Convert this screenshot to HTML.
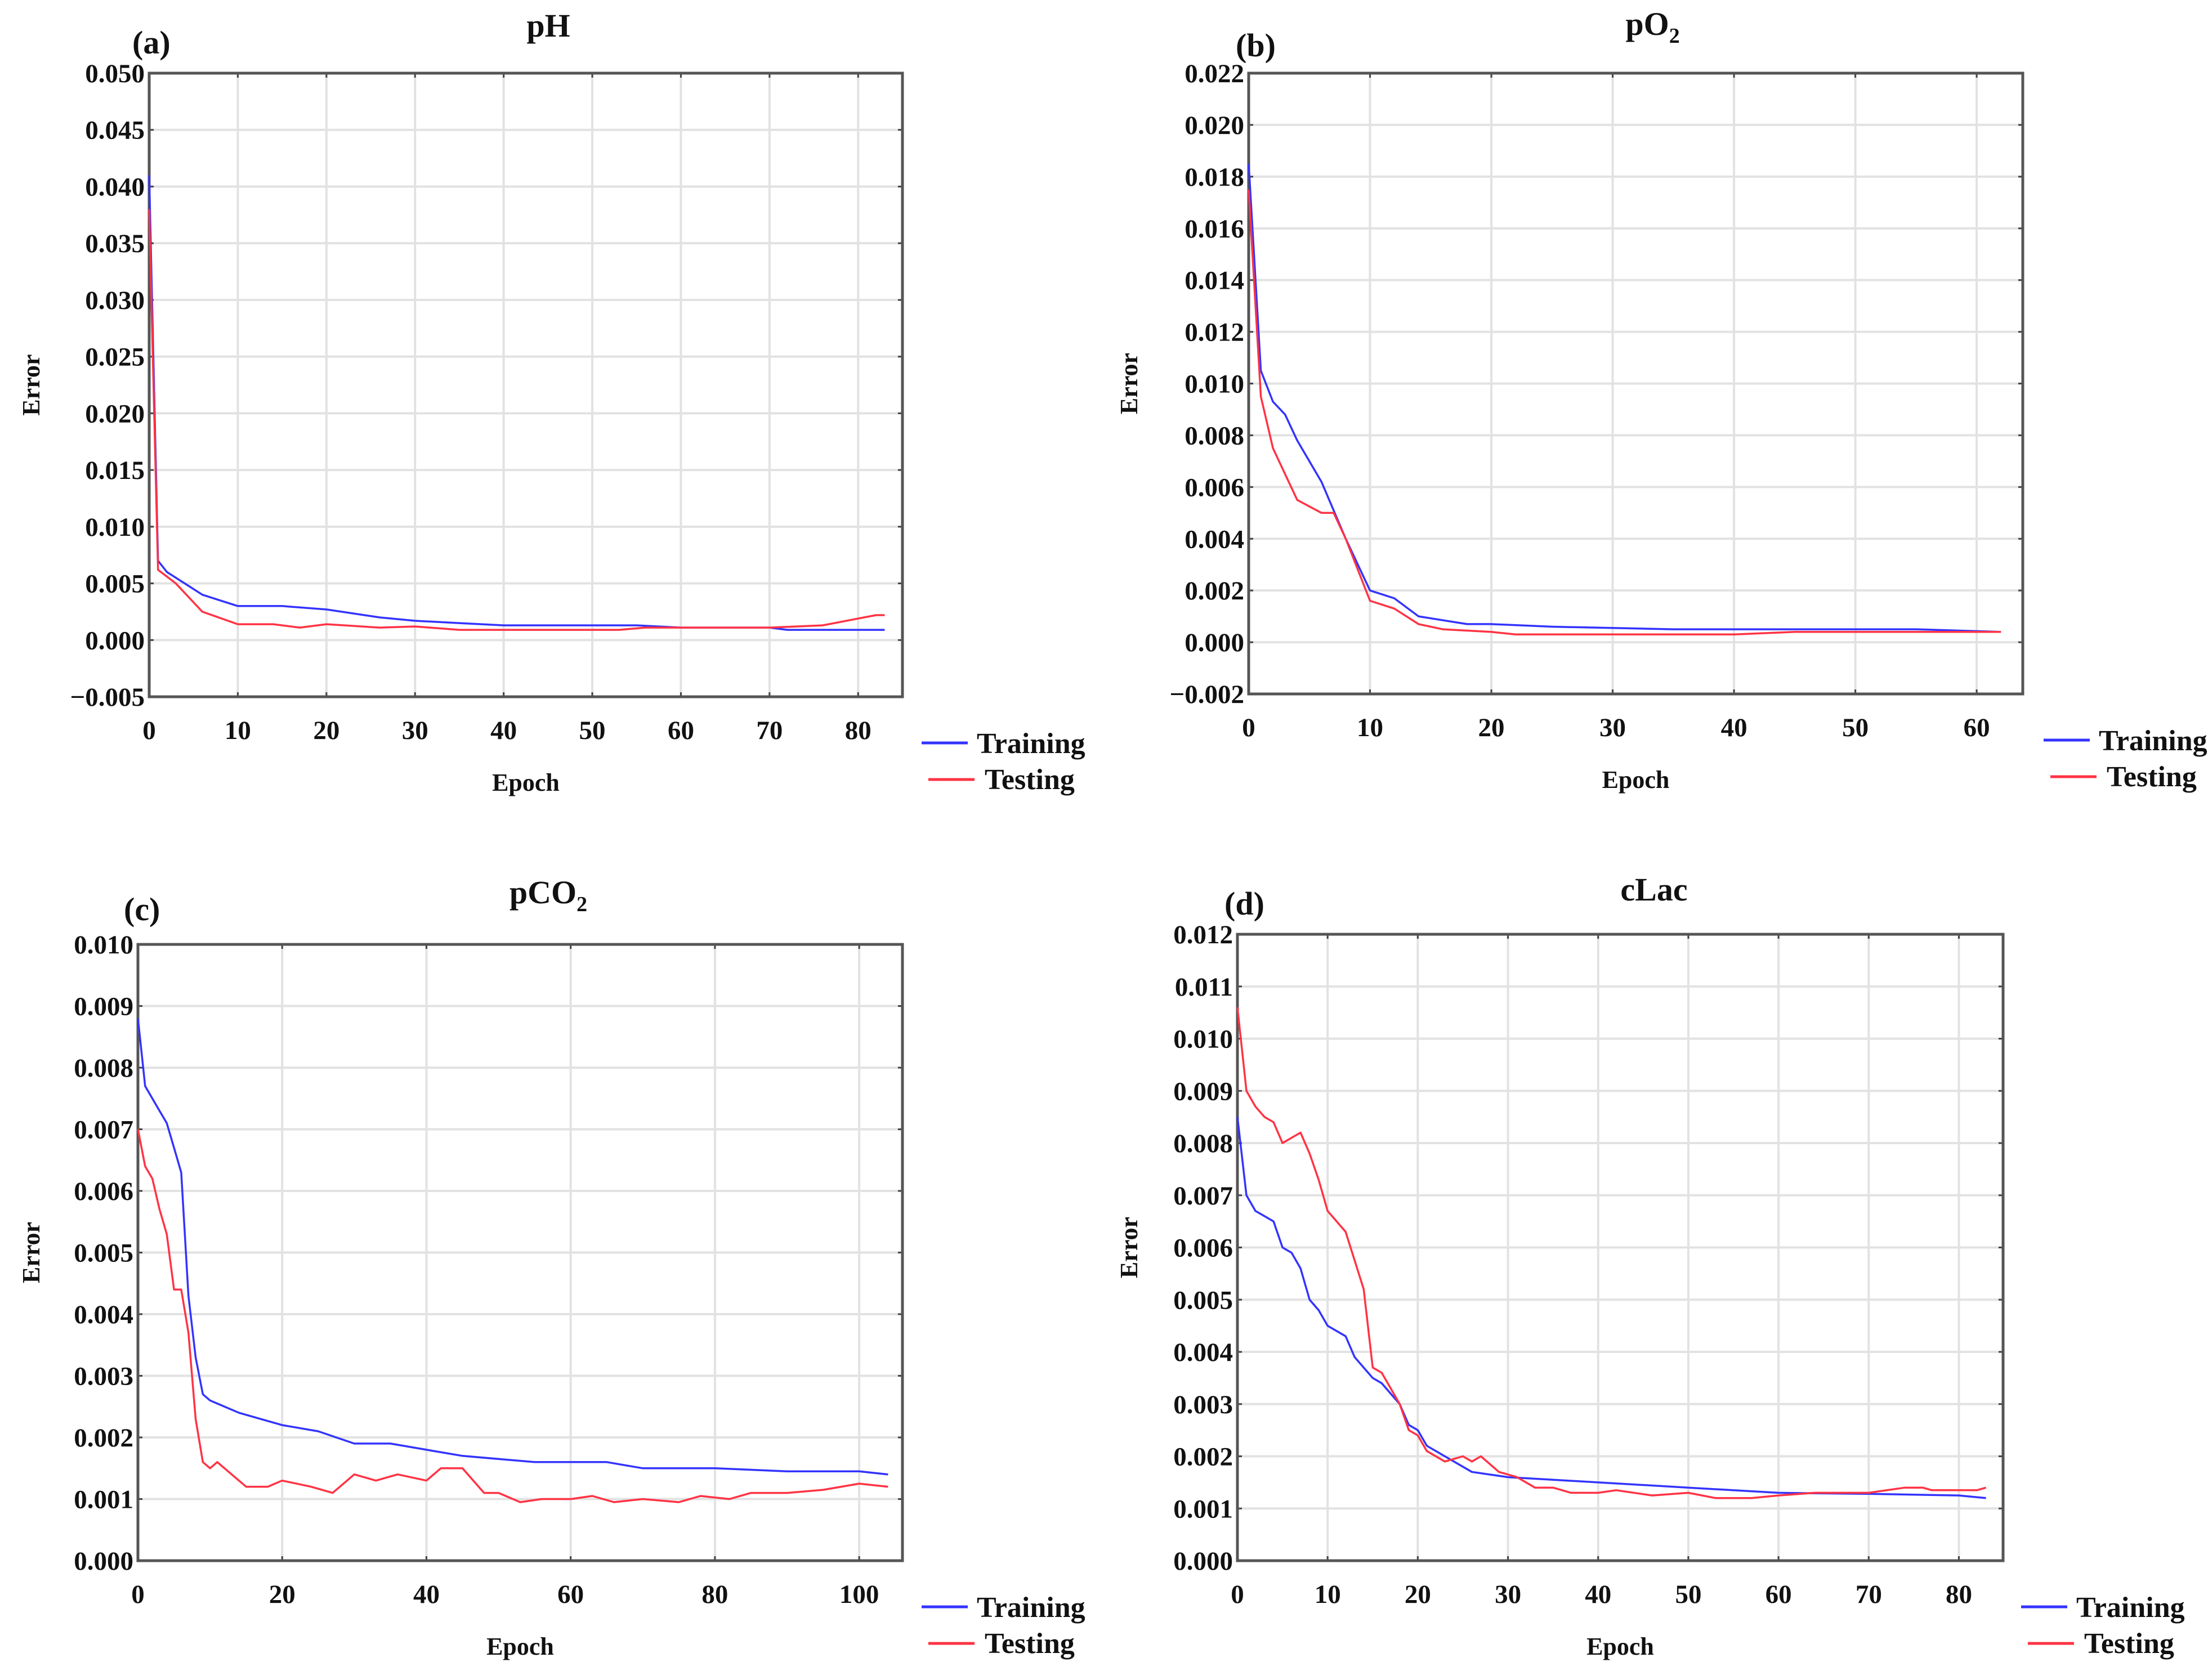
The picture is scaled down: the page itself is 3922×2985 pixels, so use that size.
<!DOCTYPE html>
<html><head><meta charset="utf-8"><style>
html,body{margin:0;padding:0;background:#fff}
svg{display:block}
text{font-family:"Liberation Serif",serif;fill:#111}
.tick{font-size:47px;font-weight:bold}
.title{font-size:58px;font-weight:bold}
.lab{font-size:44px;font-weight:bold}
.leg{font-size:52px;font-weight:bold}
</style></head><body>
<svg id="fig" width="3922" height="2985" viewBox="0 0 3922 2985" xmlns="http://www.w3.org/2000/svg"></svg>
<script>
// ---- data: panel (a) pH ----
const phTrainEpoch=[0,1,2,4,6,8,10,15,20,26,30,35,40,55,60,70,72,83];
const phTrainErr=[0.041,0.007,0.006,0.005,0.004,0.0035,0.003,0.003,0.0027,0.002,0.0017,0.0015,0.0013,0.0013,0.0011,0.0011,0.0009,0.0009];
const phTestEpoch=[0,1,3,6,10,14,17,20,26,30,35,53,56,70,76,82,83];
const phTestErr=[0.038,0.0062,0.005,0.0025,0.0014,0.0014,0.0011,0.0014,0.0011,0.0012,0.0009,0.0009,0.0011,0.0011,0.0013,0.0022,0.0022];
const phYTicks=[0.050,0.045,0.040,0.035,0.030,0.025,0.020,0.015,0.010,0.005,0.000,-0.005];
const phXTicks=[0,10,20,30,40,50,60,70,80];
// ---- panel (b) pO2 ----
const o2TrainEpoch=[0,1,2,3,4,6,8,10,12,14,18,20,25,35,55,62];
const o2TrainErr=[0.0185,0.0105,0.0093,0.0088,0.0078,0.0062,0.004,0.002,0.0017,0.001,0.0007,0.0007,0.0006,0.0005,0.0005,0.0004];
const o2TestEpoch=[0,1,2,4,6,7,8,10,12,14,16,20,22,30,40,45,62];
const o2TestErr=[0.0175,0.0095,0.0075,0.0055,0.005,0.005,0.004,0.0016,0.0013,0.0007,0.0005,0.0004,0.0003,0.0003,0.0003,0.0004,0.0004];
const o2YTicks=[0.022,0.020,0.018,0.016,0.014,0.012,0.010,0.008,0.006,0.004,0.002,0.000,-0.002];
const o2XTicks=[0,10,20,30,40,50,60];
// ---- panel (c) pCO2 ----
const co2TrainEpoch=[0,1,2,3,4,5,6,7,8,9,10,14,17,20,25,30,35,40,45,55,65,70,80,90,100,104];
const co2TrainErr=[0.0088,0.0077,0.0075,0.0073,0.0071,0.0067,0.0063,0.0043,0.0033,0.0027,0.0026,0.0024,0.0023,0.0022,0.0021,0.0019,0.0019,0.0018,0.0017,0.0016,0.0016,0.0015,0.0015,0.00145,0.00145,0.0014];
const co2TestEpoch=[0,1,2,3,4,5,6,7,8,9,10,11,13,15,18,20,24,27,30,33,36,40,42,45,48,50,53,56,60,63,66,70,75,78,82,85,90,95,100,104];
const co2TestErr=[0.007,0.0064,0.0062,0.0057,0.0053,0.0044,0.0044,0.0037,0.0023,0.0016,0.0015,0.0016,0.0014,0.0012,0.0012,0.0013,0.0012,0.0011,0.0014,0.0013,0.0014,0.0013,0.0015,0.0015,0.0011,0.0011,0.00095,0.001,0.001,0.00105,0.00095,0.001,0.00095,0.00105,0.001,0.0011,0.0011,0.00115,0.00125,0.0012];
const co2YTicks=[0.010,0.009,0.008,0.007,0.006,0.005,0.004,0.003,0.002,0.001,0.000];
const co2XTicks=[0,20,40,60,80,100];
// ---- panel (d) cLac ----
const lacTrainEpoch=[0,1,2,3,4,5,6,7,8,9,10,12,13,15,16,18,19,20,21,23,26,30,35,40,50,60,70,80,83];
const lacTrainErr=[0.0085,0.007,0.0067,0.0066,0.0065,0.006,0.0059,0.0056,0.005,0.0048,0.0045,0.0043,0.0039,0.0035,0.0034,0.003,0.0026,0.0025,0.0022,0.002,0.0017,0.0016,0.00155,0.0015,0.0014,0.0013,0.00128,0.00125,0.0012];
const lacTestEpoch=[0,1,2,3,4,5,7,8,9,10,12,14,15,16,18,19,20,21,23,25,26,27,29,31,33,35,37,40,42,46,50,53,57,60,64,70,74,76,77,82,83];
const lacTestErr=[0.0106,0.009,0.0087,0.0085,0.0084,0.008,0.0082,0.0078,0.0073,0.0067,0.0063,0.0052,0.0037,0.0036,0.003,0.0025,0.0024,0.0021,0.0019,0.002,0.0019,0.002,0.0017,0.0016,0.0014,0.0014,0.0013,0.0013,0.00135,0.00125,0.0013,0.0012,0.0012,0.00125,0.0013,0.0013,0.0014,0.0014,0.00135,0.00135,0.0014];
const lacYTicks=[0.012,0.011,0.010,0.009,0.008,0.007,0.006,0.005,0.004,0.003,0.002,0.001,0.000];
const lacXTicks=[0,10,20,30,40,50,60,70,80];

const NS="http://www.w3.org/2000/svg";
const svg=document.getElementById('fig');
function mk(tag,attrs,parent,txt){const e=document.createElementNS(NS,tag);for(const k in attrs)e.setAttribute(k,attrs[k]);if(txt!==undefined)e.textContent=txt;(parent||svg).appendChild(e);return e;}

function panel(cfg){
  const g=mk('g',{});
  
  
  const L=cfg.L,R=cfg.R,T=cfg.T,B=cfg.B;
  const xs=v=>L+(v-cfg.xmin)/(cfg.xmax-cfg.xmin)*(R-L);
  const ys=v=>B-(v-cfg.ymin)/(cfg.ymax-cfg.ymin)*(B-T);
  cfg.yTicks.forEach(v=>{
    const l=mk('line',{x1:L,x2:R,y1:ys(v),y2:ys(v),stroke:'#e2e2e2','stroke-width':4},g);
    
    
    mk('line',{x1:L,x2:L+8,y1:ys(v),y2:ys(v),stroke:'#444','stroke-width':3},g);
    mk('line',{x1:R-8,x2:R,y1:ys(v),y2:ys(v),stroke:'#444','stroke-width':3},g);
    const t=mk('text',{x:L-8,y:ys(v)+16,'text-anchor':'end',class:'tick'},g,(v<0?'\u2212'+Math.abs(v).toFixed(3):v.toFixed(3)));
    
    
  });
  cfg.xTicks.forEach(v=>{
    const l=mk('line',{x1:xs(v),x2:xs(v),y1:T,y2:B,stroke:'#e2e2e2','stroke-width':4},g);
    
    
    mk('line',{x1:xs(v),x2:xs(v),y1:T,y2:T+8,stroke:'#444','stroke-width':3},g);
    mk('line',{x1:xs(v),x2:xs(v),y1:B-8,y2:B,stroke:'#444','stroke-width':3},g);
    const t=mk('text',{x:xs(v),y:B+75,'text-anchor':'middle',class:'tick'},g,String(v));
    
    
  });
  const fr=mk('rect',{x:L,y:T,width:R-L,height:B-T,fill:'none',stroke:'#555','stroke-width':5},g);
  
  
  const line=(ex,er,color,nm)=>{
    const d=ex.map((e,i)=>(i?'L':'M')+xs(e).toFixed(1)+','+ys(er[i]).toFixed(1)).join(' ');
    const p=mk('path',{d:d,fill:'none',stroke:color,'stroke-width':3.5,'stroke-linejoin':'round'},g);
    
    
  };
  line(cfg.trE,cfg.trV,'#3333ff','training-line');
  line(cfg.teE,cfg.teV,'#ff3344','testing-line');
  const ti=mk('text',{x:(L+R)/2+cfg.tdx,y:cfg.titleY,'text-anchor':'middle',class:'title'},g);
  
  
  ti.appendChild(document.createTextNode(cfg.title));
  if(cfg.sub){mk('tspan',{'font-size':38,dy:14},ti,cfg.sub);}
  const pl=mk('text',{x:cfg.lx,y:cfg.ly,class:'title'},g,cfg.letter);
  
  
  const yl=mk('text',{x:0,y:0,transform:'translate('+(cfg.ex)+','+((T+B)/2)+') rotate(-90)','text-anchor':'middle',class:'lab'},g,'Error');
  
  
  const xl=mk('text',{x:(L+R)/2,y:B+167,'text-anchor':'middle',class:'lab'},g,'Epoch');
  
  
  const lg=mk('g',{},g);
  
  
  mk('line',{x1:cfg.legX,x2:cfg.legX+82,y1:B+82,y2:B+82,stroke:'#3333ff','stroke-width':5},lg);
  const t1=mk('text',{x:cfg.legX+98,y:B+100,class:'leg'},lg,'Training');
  
  
  mk('line',{x1:cfg.legX+12,x2:cfg.legX+94,y1:B+147,y2:B+147,stroke:'#ff3344','stroke-width':5},lg);
  const t2=mk('text',{x:cfg.legX+112,y:B+164,class:'leg'},lg,'Testing');
  
  
}

panel({name:'panel-a-ph',L:265,R:1603,T:130,B:1238,xmin:0,xmax:85,ymin:-0.005,ymax:0.050,
  yTicks:phYTicks,xTicks:phXTicks,trE:phTrainEpoch,trV:phTrainErr,teE:phTestEpoch,teV:phTestErr,
  title:'pH',tdx:40,titleY:65,letter:'(a)',lx:235,ly:95,ex:70,legX:1637});
panel({name:'panel-b-po2',L:2218,R:3593,T:130,B:1233,xmin:0,xmax:63.8,ymin:-0.002,ymax:0.022,
  yTicks:o2YTicks,xTicks:o2XTicks,trE:o2TrainEpoch,trV:o2TrainErr,teE:o2TestEpoch,teV:o2TestErr,
  title:'pO',sub:'2',tdx:30,titleY:62,letter:'(b)',lx:2195,ly:100,ex:2020,legX:3630});
panel({name:'panel-c-pco2',L:245,R:1603,T:1678,B:2773,xmin:0,xmax:106,ymin:0,ymax:0.010,
  yTicks:co2YTicks,xTicks:co2XTicks,trE:co2TrainEpoch,trV:co2TrainErr,teE:co2TestEpoch,teV:co2TestErr,
  title:'pCO',sub:'2',tdx:50,titleY:1605,letter:'(c)',lx:220,ly:1635,ex:70,legX:1637});
panel({name:'panel-d-clac',L:2198,R:3558,T:1660,B:2773,xmin:0,xmax:84.9,ymin:0,ymax:0.012,
  yTicks:lacYTicks,xTicks:lacXTicks,trE:lacTrainEpoch,trV:lacTrainErr,teE:lacTestEpoch,teV:lacTestErr,
  title:'cLac',tdx:60,titleY:1600,letter:'(d)',lx:2175,ly:1625,ex:2020,legX:3590});
</script>
</body></html>
